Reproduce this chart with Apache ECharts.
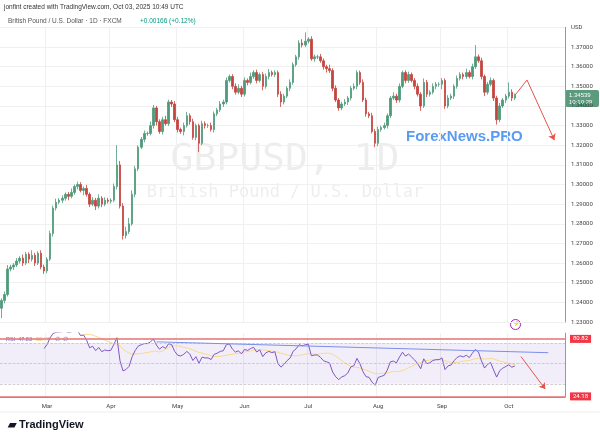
<!DOCTYPE html>
<html><head><meta charset="utf-8">
<script src="https://cdn.jsdelivr.net/npm/echarts@6/dist/echarts.min.js"></script>
<style>html,body{margin:0;padding:0;background:#fff}#chart{width:600px;height:441px}</style>
</head><body><div id="chart"></div>
<script>
// daily closes Feb 10 .. Oct 3 2025 (weekdays)
var closes = [
 1.2410,1.2440,1.2570,1.2580,1.2590,1.2610,1.2625,1.2600,1.2645,1.2620,1.2640,1.2600,1.2650,1.2580,1.2560,
 1.2620,1.2750,1.2880,1.2910,1.2920,1.2930,1.2950,1.2940,1.2960,1.2990,1.3000,1.2970,1.2980,1.2950,1.2900,1.2920,1.2890,1.2930,1.2900,1.2920,1.2915,
 1.2920,1.2990,1.3100,1.2890,1.2740,1.2760,1.2800,1.2950,1.3080,1.3190,1.3230,1.3260,1.3260,1.3300,1.3390,1.3320,1.3270,1.3330,1.3310,1.3420,1.3410,1.3330,
 1.3280,1.3270,1.3300,1.3350,1.3320,1.3240,1.3300,1.3210,1.3310,1.3300,1.3300,1.3280,1.3360,1.3380,1.3410,1.3420,1.3530,1.3550,1.3500,1.3470,1.3490,1.3460,
 1.3530,1.3520,1.3550,1.3570,1.3530,1.3560,1.3500,1.3550,1.3570,1.3560,1.3570,1.3460,1.3420,1.3450,1.3490,1.3520,1.3610,1.3650,1.3720,1.3710,1.3730,
 1.3740,1.3640,1.3650,1.3650,1.3630,1.3600,1.3590,1.3580,1.3490,1.3430,1.3390,1.3410,1.3420,1.3440,1.3490,1.3500,1.3570,1.3520,1.3430,1.3360,1.3350,1.3270,1.3210,
 1.3280,1.3290,1.3300,1.3350,1.3440,1.3450,1.3430,1.3500,1.3570,1.3530,1.3560,1.3530,1.3500,1.3460,1.3400,1.3520,1.3460,1.3470,1.3500,1.3510,1.3510,
 1.3530,1.3400,1.3440,1.3450,1.3500,1.3540,1.3560,1.3550,1.3570,1.3550,1.3600,1.3650,1.3630,1.3550,1.3470,1.3510,1.3530,1.3440,1.3330,1.3400,1.3430,1.3450,
 1.3470,1.3440,1.34539
];
var firstOpen = 1.2370;
// wick lengths in pips beyond the candle body
var wickUp = [
 10,15,20,12,10,15,10,18,12,10,25,12,10,15,12,
 10,15,12,18,10,15,10,12,20,10,15,12,10,18,10,15,12,20,10,15,12,
 10,15,100,20,15,25,30,20,15,10,12,15,10,20,15,10,12,15,20,12,10,15,
 15,10,15,20,12,15,10,10,15,12,10,15,12,10,15,12,15,10,12,15,20,12,
 15,10,20,12,15,10,12,15,18,10,12,10,15,12,10,15,12,10,15,20,45,
 10,15,12,10,15,12,10,20,12,15,10,12,15,10,12,15,12,10,15,12,10,15,12,
 15,10,15,12,10,20,12,15,10,12,15,10,12,15,10,20,12,10,15,12,10,
 12,10,15,12,10,15,12,10,20,12,15,60,12,15,10,12,15,10,12,15,10,12,
 50,15,10
];
var wickDn = [
 50,15,10,12,15,10,12,15,10,20,12,15,10,12,15,
 12,10,15,12,10,15,12,20,10,12,15,10,25,12,15,10,20,12,15,10,12,
 12,10,15,12,20,15,12,10,15,12,10,15,12,10,15,20,12,15,10,12,15,12,
 15,12,20,10,15,12,15,45,10,15,12,10,15,12,10,15,12,10,15,12,10,15,
 12,15,10,12,15,10,20,12,15,10,12,15,25,12,10,15,12,10,15,12,10,
 12,10,15,12,10,15,20,12,15,10,15,12,10,15,12,10,15,12,10,15,12,10,20,
 15,12,10,15,12,10,15,12,10,15,12,10,15,12,25,10,15,12,10,15,12,
 25,15,12,10,15,12,10,15,12,10,15,12,10,15,20,12,10,15,25,12,10,15,
 12,15,10
];
var months = ['Jan','Feb','Mar','Apr','May','Jun','Jul','Aug','Sep','Oct','Nov','Dec'];
var futureBars = 16;
// hand drawn annotations (category index, value)
var priceArrow = [[169, 1.3454], [173, 1.3532], [182, 1.3226]];
var rsiArrow = [[171, 56.8], [178.5, 24.8]];
var rsiTrend = [[51, 71.3], [180, 60.6]];

var dates = [];
var d = new Date(Date.UTC(2025, 1, 10));
while (dates.length < closes.length) {
  var wd = d.getUTCDay();
  if (wd !== 0 && wd !== 6) dates.push(d.toISOString().slice(0, 10));
  d.setUTCDate(d.getUTCDate() + 1);
}
var cats = dates.slice();
for (var k = 0; k < futureBars; k++) cats.push('f' + k);

var ohlc = [];
for (var i = 0; i < closes.length; i++) {
  var o = i ? closes[i - 1] : firstOpen, c = closes[i];
  ohlc.push([o, c, Math.min(o, c) - wickDn[i] / 10000, Math.max(o, c) + wickUp[i] / 10000]);
}
// RSI 14 (Wilder) and its 14 SMA
var rsi = [], ag = 0, al = 0;
for (var i = 0; i < closes.length; i++) {
  if (i === 0) { rsi.push(null); continue; }
  var ch = closes[i] - closes[i - 1], g = Math.max(ch, 0), l = Math.max(-ch, 0);
  if (i <= 14) { ag += g / 14; al += l / 14; } else { ag = (ag * 13 + g) / 14; al = (al * 13 + l) / 14; }
  rsi.push(i < 14 ? null : +(100 - 100 / (1 + ag / (al || 1e-9))).toFixed(2));
}
var rsiMa = rsi.map(function (v, i) {
  if (i < 27) return null;
  var s = 0; for (var j = i - 13; j <= i; j++) s += rsi[j]; return +(s / 14).toFixed(2);
});

function monthStart(idx) {
  if (idx >= dates.length || idx === 0) return false;
  return dates[idx].slice(5, 7) !== dates[idx - 1].slice(5, 7);
}
var grey = '#f0f0f0';
var chart = echarts.init(document.getElementById('chart'));
chart.setOption({
  animation: false,
  textStyle: { fontFamily: 'Roboto, sans-serif' },
  grid: [
    { left: 0, right: 35, top: 27.4, height: 294.6 },
    { left: 0, right: 35, top: 333, height: 64 }
  ],
  xAxis: [
    { type: 'category', gridIndex: 0, data: cats, boundaryGap: true,
      axisLine: { show: false }, axisTick: { show: false }, axisLabel: { show: false },
      splitLine: { show: true, interval: function (i) { return monthStart(i); }, lineStyle: { color: grey } } },
    { type: 'category', gridIndex: 1, data: cats, boundaryGap: true,
      axisLine: { lineStyle: { color: '#999' } }, axisTick: { show: false },
      axisLabel: { interval: function (i) { return monthStart(i); }, color: '#444', fontSize: 6, margin: 6,
        formatter: function (v) { return months[+v.slice(5, 7) - 1]; } },
      splitLine: { show: true, interval: function (i) { return monthStart(i); }, lineStyle: { color: grey } } }
  ],
  yAxis: [
    { type: 'value', gridIndex: 0, position: 'right', min: 1.23, max: 1.38, interval: 0.01,
      axisLine: { show: true, lineStyle: { color: '#999' } }, axisTick: { show: false },
      axisLabel: { color: '#444', fontSize: 6, margin: 6, formatter: function (v) { return v >= 1.3799 ? 'USD' : v.toFixed(5); } },
      splitLine: { lineStyle: { color: grey } } },
    { type: 'value', gridIndex: 1, position: 'right', min: 17, max: 80,
      axisLine: { show: true, lineStyle: { color: '#999' } }, axisTick: { show: false },
      axisLabel: { show: false }, splitLine: { show: false } }
  ],
  series: [
    { type: 'candlestick', xAxisIndex: 0, yAxisIndex: 0, data: ohlc, barWidth: 2,
      itemStyle: { color: '#4e9a7a', color0: '#c4443f', borderColor: '#4e9a7a', borderColor0: '#c4443f', borderWidth: 0.8 },
      markLine: { silent: true, symbol: ['none', 'none'], animation: false,
        lineStyle: { color: '#e5534b', width: 1, type: 'solid' }, label: { show: false },
        data: [
          [{ coord: priceArrow[0] }, { coord: priceArrow[1] }],
          [{ coord: priceArrow[1] }, { coord: priceArrow[2], symbol: 'arrow', symbolSize: 6 }],
          [{ yAxis: closes[closes.length - 1], lineStyle: { color: '#4e9a7a', type: 'dotted', width: 0.8 } }, { xAxis: cats.length - 1, yAxis: closes[closes.length - 1] }]
        ] } },
    { type: 'line', xAxisIndex: 1, yAxisIndex: 1, data: rsiMa, showSymbol: false,
      lineStyle: { color: '#f7d98a', width: 1 } },
    { type: 'line', xAxisIndex: 1, yAxisIndex: 1, data: rsi, showSymbol: false,
      lineStyle: { color: '#7e57c2', width: 1 },
      markArea: { silent: true, itemStyle: { color: 'rgba(126,87,194,0.1)' }, data: [[{ yAxis: 30 }, { yAxis: 70 }]] },
      markLine: { silent: true, symbol: ['none', 'none'], animation: false,
        label: { show: false },
        data: [
          { yAxis: 70, lineStyle: { color: '#bbb', type: 'dashed', width: 0.7 } },
          { yAxis: 50, lineStyle: { color: '#bbb', type: 'dashed', width: 0.7 } },
          { yAxis: 30, lineStyle: { color: '#bbb', type: 'dashed', width: 0.7 } },
          { yAxis: 74.2, lineStyle: { color: '#e57373', width: 1.5, type: 'solid' },
            label: { show: true, position: 'end', formatter: '80.82', color: '#fff', backgroundColor: '#f23645', fontSize: 6, padding: [1, 3] } },
          { yAxis: 17.6, lineStyle: { color: '#e57373', width: 1.5, type: 'solid' },
            label: { show: true, position: 'end', formatter: '24.18', color: '#fff', backgroundColor: '#f23645', fontSize: 6, padding: [1, 3] } },
          { yAxis: 42.6, lineStyle: { opacity: 0 },
            label: { show: true, position: 'end', formatter: '40.00', color: '#444', fontSize: 6, distance: 8 } },
          [{ coord: rsiTrend[0], lineStyle: { color: '#7b8ee8', width: 1, type: 'solid' } }, { coord: rsiTrend[1] }],
          [{ coord: rsiArrow[0], lineStyle: { color: '#e5534b', width: 1, type: 'solid' } }, { coord: rsiArrow[1], symbol: 'arrow', symbolSize: 6 }]
        ] } }
  ],
  graphic: [
    { type: 'text', left: 4, top: 4, style: { text: 'jonfint created with TradingView.com, Oct 03, 2025 10:49 UTC', fontSize: 6.5, fill: '#333' } },
    { type: 'text', left: 8, top: 18, style: { text: 'British Pound / U.S. Dollar · 1D · FXCM', fontSize: 6.5, fill: '#555' } },
    { type: 'text', left: 140, top: 18, style: { text: '+0.00166 (+0.12%)', fontSize: 6.5, fill: '#089981' } },
    { type: 'text', style: { x: 285, y: 160, text: 'GBPUSD, 1D', fontSize: 38, fill: 'rgba(0,0,0,0.07)', align: 'center', verticalAlign: 'middle', fontFamily: 'DejaVu Sans Mono' } },
    { type: 'text', style: { x: 285, y: 193, text: 'British Pound / U.S. Dollar', fontSize: 17, fill: 'rgba(0,0,0,0.07)', align: 'center', verticalAlign: 'middle', fontFamily: 'DejaVu Sans Mono' } },
    { type: 'text', left: 406, top: 129, style: { text: 'ForexNews.PRO', fontSize: 15, fontWeight: 'bold', fill: '#5b9bf0' } },
    { type: 'rect', left: 565, top: 90, shape: { width: 34, height: 17, r: 2 }, style: { fill: '#5b9a7c' } },
    { type: 'text', left: 569, top: 92, style: { text: '1.34539\n10:10:29', fontSize: 6, lineHeight: 7, fill: '#fff' } },
    { type: 'circle', left: 510, top: 319, shape: { r: 5 }, style: { fill: '#fff', stroke: '#9c27b0', lineWidth: 1 } },
    { type: 'text', left: 513, top: 320, style: { text: '⚡', fontSize: 6, fill: '#9c27b0' } },
    { type: 'text', left: 6, top: 336, style: { text: 'RSI  47.83', fontSize: 5.5, fill: '#7e57c2' } },
    { type: 'text', left: 36, top: 336, style: { text: '50.77', fontSize: 5.5, fill: '#e6c14d' } },
    { type: 'text', left: 55, top: 336, style: { text: '∅  ∅', fontSize: 5.5, fill: '#7e57c2' } },
    { type: 'line', shape: { x1: 0, y1: 412, x2: 600, y2: 412 }, style: { stroke: '#eee' } },
    { type: 'text', left: 8, top: 419, style: { text: '▰ TradingView', fontSize: 11, fontWeight: 'bold', fill: '#131722' } }
  ]
});
</script></body></html>
